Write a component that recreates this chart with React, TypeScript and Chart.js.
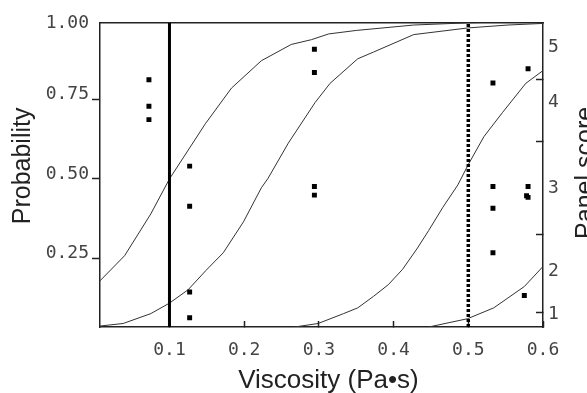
import React, { useEffect, useRef } from "react";
import { Chart, registerables } from "chart.js";

Chart.register(...registerables);

// ---- data ----
const curveAx = [0.007, 0.04, 0.075, 0.1, 0.148, 0.183, 0.223, 0.263, 0.29, 0.313, 0.35, 0.427, 0.5, 0.6];
const curveAy = [0.18, 0.259, 0.39, 0.5, 0.673, 0.785, 0.871, 0.922, 0.937, 0.955, 0.966, 0.983, 0.99, 0.995];

const curveBx = [0.007, 0.038, 0.075, 0.1, 0.125, 0.149, 0.172, 0.199, 0.223, 0.232, 0.259, 0.295, 0.315, 0.352, 0.373, 0.427, 0.5, 0.553, 0.6];
const curveBy = [0.038, 0.046, 0.077, 0.11, 0.152, 0.213, 0.268, 0.365, 0.472, 0.502, 0.612, 0.74, 0.8, 0.877, 0.898, 0.953, 0.974, 0.983, 0.988];

const curveCx = [0.259, 0.299, 0.333, 0.352, 0.373, 0.393, 0.412, 0.432, 0.447, 0.466, 0.486, 0.5, 0.521, 0.546, 0.577, 0.6];
const curveCy = [0.032, 0.046, 0.077, 0.095, 0.131, 0.168, 0.216, 0.283, 0.338, 0.411, 0.481, 0.545, 0.633, 0.709, 0.8, 0.84];

const curveDx = [0.447, 0.499, 0.534, 0.575, 0.6];
const curveDy = [0.035, 0.061, 0.095, 0.162, 0.225];

const pointX = [0.0725, 0.0725, 0.0725, 0.127, 0.127, 0.127, 0.127, 0.294, 0.294, 0.294, 0.294, 0.533, 0.533, 0.533, 0.533, 0.58, 0.58, 0.578, 0.58, 0.575];
const pointY = [0.811, 0.728, 0.686, 0.54, 0.414, 0.145, 0.064, 0.907, 0.834, 0.476, 0.449, 0.801, 0.476, 0.408, 0.268, 0.846, 0.476, 0.447, 0.442, 0.134];

const solidLineX = 0.1;
const dottedLineX = 0.5;

const xMin = 0.007;
const xMax = 0.6;
const yMin = 0.035;
const yMax = 0.99;

const xTickValues = [0.1, 0.2, 0.3, 0.4, 0.5, 0.6];
const yTickValues = [0.25, 0.5, 0.75, 1.0];
const yTickLabels = ["0.25", "0.50", "0.75", "1.00"];

const panelLabels = ["1", "2", "3", "4", "5"];
const panelLabelAt = [0.058, 0.194, 0.456, 0.724, 0.898];
const panelMarkAt = [0.079, 0.326, 0.618, 0.813];

const xTitle = "Viscosity (Pa•s)";
const yTitle = "Probability";
const y2Title = "Panel score";

const zip = (xs: number[], ys: number[]) => xs.map((x, i) => ({ x, y: ys[i] }));

const TICK_FONT = { family: '"DejaVu Sans Mono", monospace', size: 18 };
const TICK_COLOR = "#444";
const AXIS_COLOR = "#222";

const titlePlugin = {
  id: "axisTitles",
  afterDraw(chart: any) {
    const ctx = chart.ctx;
    const a = chart.chartArea;
    const midX = (a.left + a.right) / 2;
    const midY = (a.top + a.bottom) / 2;
    ctx.save();
    ctx.fillStyle = "#222";
    ctx.textAlign = "center";
    ctx.textBaseline = "alphabetic";
    ctx.font = '26px "Liberation Sans", Arial, sans-serif';
    ctx.fillText(xTitle, midX + 7, a.bottom + 61);
    ctx.font = '25px "Liberation Sans", Arial, sans-serif';
    ctx.save();
    ctx.translate(a.left - 70, midY - 9);
    ctx.rotate(-Math.PI / 2);
    ctx.fillText(yTitle, 0, 0);
    ctx.restore();
    ctx.save();
    ctx.translate(a.right + 50, midY - 2);
    ctx.rotate(-Math.PI / 2);
    ctx.fillText(y2Title, 0, 0);
    ctx.restore();
    ctx.restore();
  },
};

export default function App() {
  const ref = useRef<HTMLCanvasElement | null>(null);

  useEffect(() => {
    if (!ref.current) return;
    const lineDs = (xs: number[], ys: number[]) => ({
      data: zip(xs, ys),
      showLine: true,
      borderColor: "#333",
      borderWidth: 1,
      pointRadius: 0,
      tension: 0,
    });
    const chart = new Chart(ref.current, {
      type: "scatter",
      data: {
        datasets: [
          {
            data: zip(pointX, pointY),
            pointStyle: "rect",
            pointRadius: 3.5,
            pointBorderWidth: 0,
            backgroundColor: "#000",
            borderColor: "#000",
          },
          {
            data: [
              { x: solidLineX, y: yMin },
              { x: solidLineX, y: yMax },
            ],
            showLine: true,
            borderColor: "#000",
            borderWidth: 3,
            pointRadius: 0,
          },
          {
            data: [
              { x: dottedLineX, y: yMin },
              { x: dottedLineX, y: yMax },
            ],
            showLine: true,
            borderColor: "#000",
            borderWidth: 3.5,
            borderDash: [3, 2],
            pointRadius: 0,
          },
          lineDs(curveAx, curveAy),
          lineDs(curveBx, curveBy),
          lineDs(curveCx, curveCy),
          lineDs(curveDx, curveDy),
        ] as any,
      },
      options: {
        animation: false,
        responsive: true,
        maintainAspectRatio: false,
        layout: { padding: { top: 13, left: 0, right: 0, bottom: 0 } },
        plugins: { legend: { display: false }, tooltip: { enabled: false } },
        scales: {
          x: {
            type: "linear",
            position: "bottom",
            min: xMin,
            max: xMax,
            afterBuildTicks: (s: any) => {
              s.ticks = xTickValues.map((v) => ({ value: v }));
            },
            afterFit: (s: any) => {
              s.height = 66;
            },
            ticks: {
              autoSkip: false,
              maxRotation: 0,
              font: TICK_FONT,
              color: TICK_COLOR,
              padding: 19,
              callback: (v: any) => Number(v).toFixed(1),
            },
            grid: {
              drawOnChartArea: false,
              drawTicks: true,
              tickLength: -6,
              tickColor: AXIS_COLOR,
              tickWidth: 1.5,
            },
            border: { display: true, color: AXIS_COLOR, width: 1.5 },
          },
          xTop: {
            type: "linear",
            position: "top",
            min: xMin,
            max: xMax,
            afterFit: (s: any) => {
              s.height = 0;
            },
            ticks: { display: false },
            grid: { drawOnChartArea: false, drawTicks: false },
            border: { display: true, color: AXIS_COLOR, width: 1.5 },
          },
          y: {
            type: "linear",
            position: "left",
            min: yMin,
            max: yMax,
            afterBuildTicks: (s: any) => {
              s.ticks = yTickValues.map((v) => ({ value: Math.min(v, s.max - 0.018) }));
            },
            afterFit: (s: any) => {
              s.width = 100;
            },
            ticks: {
              autoSkip: false,
              font: TICK_FONT,
              color: TICK_COLOR,
              padding: 3,
              labelOffset: -5,
              callback: (_v: any, i: number) => yTickLabels[i],
            },
            grid: {
              drawOnChartArea: false,
              drawTicks: true,
              tickLength: 8,
              tickWidth: 1.5,
              tickColor: (c: any) =>
                c.tick && c.tick.value > 0.9 ? "rgba(0,0,0,0)" : AXIS_COLOR,
            },
            border: { display: true, color: AXIS_COLOR, width: 1.5 },
          },
          y2: {
            type: "linear",
            position: "right",
            min: yMin,
            max: yMax,
            afterBuildTicks: (s: any) => {
              const vals = [...panelLabelAt, ...panelMarkAt].sort((a, b) => a - b);
              s.ticks = vals.map((v) => ({ value: v }));
            },
            afterFit: (s: any) => {
              s.width = 44;
            },
            ticks: {
              autoSkip: false,
              font: TICK_FONT,
              color: TICK_COLOR,
              padding: 12,
              labelOffset: -5,
              callback: (v: any) => {
                const idx = panelLabelAt.indexOf(Number(v));
                return idx >= 0 ? panelLabels[idx] : "";
              },
            },
            grid: {
              drawOnChartArea: false,
              drawTicks: true,
              tickLength: -7,
              tickWidth: 1.5,
              tickColor: (c: any) =>
                c.tick && panelMarkAt.indexOf(c.tick.value) >= 0 ? AXIS_COLOR : "rgba(0,0,0,0)",
            },
            border: { display: true, color: AXIS_COLOR, width: 1.5 },
          },
        },
      } as any,
      plugins: [titlePlugin],
    });
    return () => chart.destroy();
  }, []);

  return (
    <div style={{ position: "fixed", left: 0, top: 0, width: 587, height: 393, background: "#fff" }}>
      <canvas ref={ref} />
    </div>
  );
}
